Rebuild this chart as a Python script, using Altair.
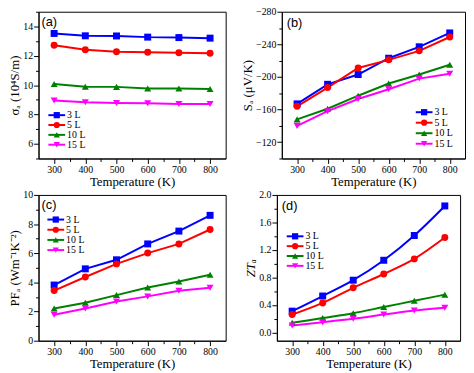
import altair as alt
import pandas as pd

temperature = [300, 400, 500, 600, 700, 800]
series = ["3 L", "5 L", "10 L", "15 L"]
colors = ["#0000ff", "#ff0000", "#008000", "#ff00ff"]
shapes = ["square", "circle", "triangle-up", "triangle-down"]

# (a) electrical conductivity, 10^4 S/m
sigma_3L = [13.52, 13.36, 13.35, 13.27, 13.24, 13.20]
sigma_5L = [12.71, 12.41, 12.27, 12.24, 12.20, 12.17]
sigma_10L = [10.08, 9.89, 9.88, 9.77, 9.77, 9.73]
sigma_15L = [8.95, 8.83, 8.78, 8.76, 8.72, 8.71]

# (b) Seebeck coefficient, uV/K
seebeck_3L = [-167, -191, -203, -223, -237, -254]
seebeck_5L = [-164, -187, -211, -221, -232, -249]
seebeck_10L = [-148, -161, -177, -192, -203, -215]
seebeck_15L = [-140, -158, -173, -185, -198, -204]

# (c) power factor
pf_3L = [3.82, 4.93, 5.55, 6.64, 7.52, 8.60]
pf_5L = [3.44, 4.37, 5.27, 6.01, 6.64, 7.63]
pf_10L = [2.21, 2.60, 3.13, 3.65, 4.06, 4.52]
pf_15L = [1.78, 2.21, 2.69, 3.04, 3.43, 3.63]

# (d) ZT
zt_3L = [0.31, 0.53, 0.76, 1.05, 1.41, 1.84]
zt_5L = [0.26, 0.43, 0.65, 0.85, 1.07, 1.38]
zt_10L = [0.14, 0.21, 0.28, 0.37, 0.46, 0.55]
zt_15L = [0.10, 0.15, 0.20, 0.26, 0.32, 0.36]

SERIF = "Liberation Serif"
SANS = "Liberation Sans"


def long_df(vals):
    rows = []
    for s, v in zip(series, vals):
        for t, y in zip(temperature, v):
            rows.append({"T": t, "series": s, "v": y})
    return pd.DataFrame(rows)


color_enc = alt.Color("series:N", scale=alt.Scale(domain=series, range=colors), legend=None)
shape_enc = alt.Shape("series:N", scale=alt.Scale(domain=series, range=shapes), legend=None)


def make_panel(vals, ydom, yvals, major_test, fmt, ytitle, tag, tag_xy, leg_x0, leg_y,
               width, height, reverse=False, title_style="normal", interp="linear"):
    df = long_df(vals)
    x = alt.X(
        "T:Q",
        scale=alt.Scale(domain=[250, 850], nice=False, zero=False),
        axis=alt.Axis(
            values=list(range(300, 801, 50)),
            format="d",
            labelExpr="datum.value % 100 === 0 ? datum.label : ''",
            tickSize={"condition": {"test": "datum.value % 100 === 0", "value": 5}, "value": 3},
            title="Temperature (K)",
            titleFontWeight="normal",
            labelPadding=1,
            titlePadding=1,
        ),
    )
    y = alt.Y(
        "v:Q",
        scale=alt.Scale(domain=ydom, nice=False, zero=False, reverse=reverse),
        axis=alt.Axis(
            values=yvals,
            format=fmt,
            labelExpr=f"({major_test}) ? datum.label : ''",
            tickSize={"condition": {"test": major_test, "value": 5}, "value": 3},
            title=ytitle,
            titleFontStyle=title_style,
            titleFontWeight="normal",
            labelPadding=1,
            titlePadding=1,
        ),
    )
    base = alt.Chart(df)
    lines = base.mark_line(strokeWidth=2, interpolate=interp).encode(x=x, y=y, color=color_enc)
    points = base.mark_point(filled=True, size=50, opacity=1).encode(
        x=x, y=y, color=color_enc, shape=shape_enc
    )
    data_layer = alt.layer(lines, points)

    leg_df = pd.DataFrame({"series": series})
    ly = alt.Y(
        "series:N",
        scale=alt.Scale(type="point", domain=series, range=leg_y, padding=0),
        axis=None,
    )
    lbase = alt.Chart(leg_df)
    leg_rule = lbase.mark_rule(strokeWidth=2).encode(
        x=alt.value(leg_x0), x2=alt.value(leg_x0 + 17), y=ly, color=color_enc
    )
    leg_pt = lbase.mark_point(filled=True, size=40, opacity=1).encode(
        x=alt.value(leg_x0 + 8.5), y=ly, color=color_enc, shape=shape_enc
    )
    leg_txt = lbase.mark_text(
        align="left", baseline="middle", font=SERIF, fontSize=10, color="black"
    ).encode(x=alt.value(leg_x0 + 19), y=ly, text="series:N")
    legend_layer = alt.layer(leg_rule, leg_pt, leg_txt)

    tag_chart = alt.Chart(pd.DataFrame({"t": [tag]})).mark_text(
        align="left", baseline="middle", font=SANS, fontSize=13, color="black"
    ).encode(x=alt.value(tag_xy[0]), y=alt.value(tag_xy[1]), text="t:N")

    return (
        alt.layer(data_layer, legend_layer, tag_chart)
        .resolve_scale(y="independent")
        .properties(width=width, height=height)
    )


pa = make_panel(
    [sigma_3L, sigma_5L, sigma_10L, sigma_15L], [5, 15], list(range(5, 16)),
    "datum.value % 2 === 0", "d", "σₐ (10⁴S/m)", "(a)", (3, 10), 10,
    [105, 135], 190, 149,
)
pb = make_panel(
    [seebeck_3L, seebeck_5L, seebeck_10L, seebeck_15L], [-280, -100],
    list(range(-280, -99, 20)), "datum.value % 40 === 0", "d", "Sₐ (μV/K)", "(b)", (5, 12), 136,
    [102, 134], 186, 149, reverse=True,
)
pc = make_panel(
    [pf_3L, pf_5L, pf_10L, pf_15L], [0, 10], list(range(0, 11)),
    "datum.value % 2 === 0", "d", "PFₐ (Wm⁻¹K⁻²)", "(c)", (3, 10), 9,
    [25, 56], 190, 148,
)
pd_ = make_panel(
    [zt_3L, zt_5L, zt_10L, zt_15L], [-0.12, 2.0], [round(0.2 * i, 1) for i in range(11)],
    "round(datum.value * 10) % 4 === 0", ".1f", "ZTₐ", "(d)", (5, 11), 10,
    [42, 72], 186, 148, title_style="italic", interp="monotone",
)

chart = (
    alt.vconcat(
        alt.hconcat(pa, pb, spacing=14),
        alt.hconcat(pc, pd_, spacing=18),
        spacing=0,
    )
    .properties(padding={"left": 0, "top": -5, "right": 0, "bottom": 0})
    .configure_view(stroke="black", strokeWidth=1)
    .configure_axis(
        grid=False,
        domainColor="black",
        tickColor="black",
        labelColor="black",
        titleColor="black",
        labelFont=SERIF,
        labelFontSize=10,
        titleFont=SERIF,
        titleFontSize=13,
        titleFontWeight="normal",
    )
)

chart.save("out.html", embed_options={"renderer": "svg", "actions": False})
